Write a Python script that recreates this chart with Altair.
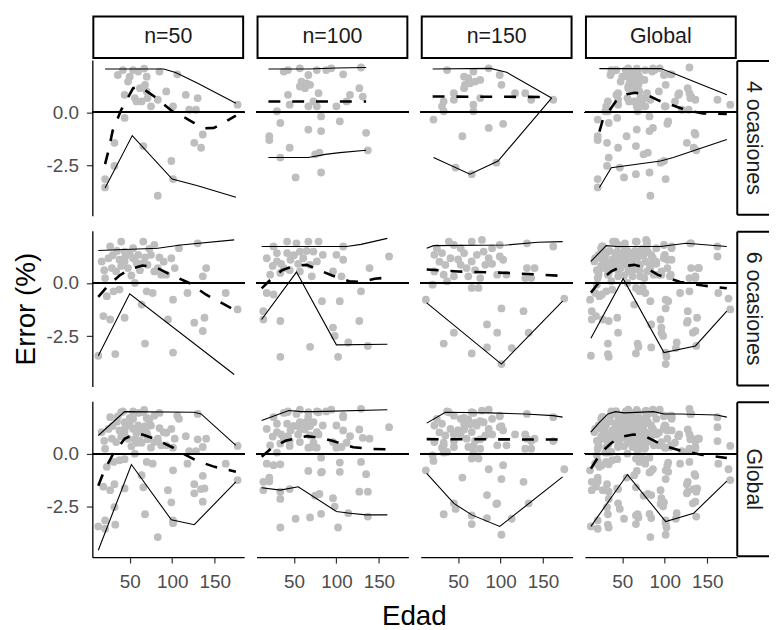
import altair as alt
import pandas as pd

FONT = "Liberation Sans"
COLS = ["n=50", "n=100", "n=150", "Global"]
ROWS = ["4 ocasiones", "6 ocasiones", "Global"]
X_TICKS = [50, 100, 150]
Y_TICKS = [-2.5, 0]

# ---------------- points (edad, error) ----------------
pts_4_50 = [(36, 1.75), (42, 1.98), (50, 1.67), (54, 1.98), (60, 1.91), (67, 2.05), (70, 1.67), (85, 1.91),
            (106, 1.78), (48, 1.44), (68, 1.29), (62, 1.13), (44, 0.82), (58, 0.51), (64, 0.51), (71, 0.67),
            (75, 0.28), (83, 0.59), (93, 0.98), (101, 0.28), (116, 0.82), (130, 0.67), (120, 0.12), (128, 0.12),
            (44, -0.26), (136, -1.04), (126, -1.43), (134, -1.66), (99, -2.28), (66, -1.58), (32, -1.43),
            (32, -2.51), (21, -3.13), (101, -3.13), (83, -3.91), (177, 0.36), (70, 0.98), (56, 0.67), (21, -3.52)]
pts_4_100 = [(38, 1.91), (43, 1.98), (57, 2.06), (67, 1.75), (77, 1.98), (88, 1.98), (94, 2.06), (108, 1.78),
             (129, 2.1), (59, 1.44), (65, 1.36), (57, 1.21), (63, 1.13), (69, 1.29), (43, 0.82), (79, 0.9),
             (116, 0.82), (127, 1.13), (131, 0.74), (45, 0.36), (73, 0.51), (67, 0.28), (77, 0.28), (100, 0.28),
             (112, 0.51), (30, 0.05), (82, -0.19), (34, -0.5), (104, -0.42), (67, -0.81), (82, -0.88),
             (21, -1.12), (135, -0.96), (45, -1.66), (75, -1.97), (80, -1.89), (137, -1.78), (34, -2.12),
             (52, -3.05), (82, -2.82), (21, -1.3)]
pts_4_150 = [(37, 1.98), (57, 1.67), (62, 1.6), (68, 1.91), (76, 1.52), (86, 2.06), (99, 1.75), (101, 1.29),
             (58, 1.29), (64, 1.36), (70, 1.44), (45, 0.9), (45, 0.59), (57, 1.13), (33, 0.51), (76, 0.67),
             (68, 0.36), (117, 0.9), (129, 0.9), (136, 0.59), (31, 0.28), (68, 0.05), (33, 0.05), (21, -0.34),
             (55, -1.12), (86, -0.73), (103, -0.54), (47, -2.59), (66, -2.9), (95, -2.36), (162, 0.59)]
pts_6_50 = [(27, 1.71), (40, 1.94), (44, 1.47), (54, 1.63), (66, 1.94), (79, 1.78), (108, 1.63), (130, 1.86),
            (17, 1.01), (25, 1.16), (29, 0.7), (34, 0.54), (38, 1.09), (44, 1.01), (48, 0.7), (54, 1.16),
            (60, 1.32), (66, 0.93), (71, 0.85), (75, 1.32), (79, 0.54), (83, 0.7), (87, 0.39), (99, 1.16),
            (103, 0.7), (140, 0.7), (136, 0.31), (118, -0.47), (163, -0.47), (177, -1.24), (21, 0.23),
            (23, -0.62), (31, -0.39), (38, -0.31), (56, 0.0), (70, -0.39), (77, -0.47), (93, 0.39), (64, -1.01),
            (19, -1.55), (27, -1.71), (44, -1.63), (101, -0.78), (95, -1.71), (126, -1.86), (138, -1.63),
            (136, -2.25), (33, -3.33), (13, -3.41), (68, -2.84), (101, -3.26), (30, 1.3), (35, 1.5), (45, 1.25),
            (50, 1.4), (58, 0.95), (62, 0.6), (40, 0.8), (20, 0.6), (52, 0.35), (68, 1.2), (73, 1.6), (85, 1.2),
            (90, 1.0)]
pts_6_100 = [(26, 1.71), (42, 1.94), (53, 1.86), (67, 1.94), (79, 1.94), (108, 1.71), (42, 1.4), (57, 1.47),
             (73, 1.47), (84, 1.32), (18, 1.16), (30, 1.01), (38, 0.7), (46, 1.09), (61, 1.16), (69, 0.85),
             (77, 1.01), (100, 1.32), (108, 1.09), (96, 0.54), (34, 0.47), (22, 0.39), (57, 0.54), (71, 0.31),
             (106, 0.31), (129, -0.39), (139, 0.7), (162, 1.24), (18, -0.47), (26, -0.54), (83, -0.85),
             (104, -0.85), (14, -1.32), (14, -1.71), (34, -1.78), (96, -2.09), (127, -1.78), (98, -2.48),
             (114, -2.79), (137, -2.95), (69, -2.99), (34, -3.46), (102, -3.46), (30, 1.4), (50, 1.3), (35, 0.9),
             (55, 0.9), (65, 1.5), (45, 0.6), (25, 0.8)]
pts_6_150 = [(25, 1.63), (39, 1.94), (45, 1.78), (53, 1.63), (66, 1.94), (78, 2.02), (90, 1.63), (99, 1.78),
             (131, 1.86), (162, 1.71), (22, 1.32), (31, 1.4), (41, 1.16), (57, 1.4), (72, 1.32), (80, 1.47),
             (86, 1.16), (99, 1.24), (103, 1.09), (35, 0.85), (53, 0.85), (66, 1.01), (82, 0.85), (22, 0.54),
             (33, 0.39), (45, 0.31), (62, 0.31), (76, 0.23), (96, 0.39), (107, 0.39), (131, 0.7), (140, 0.7),
             (129, 0.23), (136, 0.23), (20, -0.08), (37, 0.08), (66, -0.23), (74, -0.23), (12, -0.78),
             (101, -1.19), (127, -1.32), (84, -1.94), (96, -2.33), (45, -2.33), (33, -2.84), (66, -3.3),
             (84, -3.02), (113, -3.05), (133, -2.33), (101, -3.8), (175, -0.73), (28, 1.0), (50, 1.1), (60, 0.7),
             (70, 0.6), (90, 0.9)]

# ---------------- lines: upper (sup), lower (inf), mean (med) ----------------
sup_4_50 = [(21, 2.03), (52, 2.03), (90, 2.03), (104, 1.87), (130, 1.36), (175, 0.43)]
inf_4_50 = [(21, -3.55), (53, -1.09), (100, -3.13), (130, -3.44), (175, -3.98)]
med_4_50 = [(21, -2.43), (25, -1.8), (30, -0.85), (40, 0.12), (54, 1.13), (62, 1.21), (79, 0.74), (100, 0.05),
            (115, -0.25), (126, -0.5), (138, -0.75), (149, -0.73), (160, -0.5), (175, -0.15)]
sup_4_100 = [(20, 2.03), (67, 2.03), (100, 2.08), (135, 2.1)]
inf_4_100 = [(20, -2.12), (67, -2.12), (87, -1.97), (104, -1.89), (135, -1.78)]
med_4_100 = [(20, 0.51), (135, 0.51)]
sup_4_150 = [(20, 2.03), (88, 2.06), (107, 1.88), (160, 0.67)]
inf_4_150 = [(21, -2.12), (64, -2.9), (97, -2.28), (160, 0.67)]
med_4_150 = [(20, 0.74), (160, 0.72)]
sup_4_g = [(23, 2.05), (95, 2.05), (110, 1.83), (173, 0.82)]
inf_4_g = [(23, -3.52), (37, -2.6), (95, -2.28), (110, -2.12), (173, -1.27)]
med_4_g = [(23, -0.9), (27, -0.35), (35, 0.1), (42, 0.5), (55, 0.85), (65, 0.92), (80, 0.8), (93, 0.55),
           (110, 0.32), (125, 0.1), (145, -0.05), (173, -0.08)]

sup_6_50 = [(13, 1.52), (83, 1.63), (110, 1.78), (173, 2.02)]
inf_6_50 = [(13, -3.41), (50, -0.51), (173, -4.29)]
med_6_50 = [(13, -0.65), (25, -0.1), (38, 0.35), (50, 0.65), (65, 0.82), (80, 0.75), (95, 0.45), (120, 0.0),
            (140, -0.55), (173, -1.25)]
sup_6_100 = [(12, 1.71), (112, 1.71), (129, 1.81), (160, 2.09)]
inf_6_100 = [(12, -1.71), (53, 0.51), (100, -2.9), (160, -2.87)]
med_6_100 = [(12, -0.25), (25, 0.25), (36, 0.6), (50, 0.8), (65, 0.85), (80, 0.6), (95, 0.35), (115, 0.08),
             (130, 0.05), (145, 0.2), (160, 0.25)]
sup_6_150 = [(13, 1.63), (21, 1.75), (107, 1.78), (144, 1.91), (173, 1.94)]
inf_6_150 = [(13, -0.93), (101, -3.8), (173, -0.85)]
med_6_150 = [(13, 0.63), (50, 0.54), (110, 0.47), (173, 0.33)]
sup_6_g = [(13, 1.01), (31, 1.75), (44, 1.71), (95, 1.71), (125, 1.86), (173, 1.71)]
inf_6_g = [(13, -2.59), (51, 0.2), (99, -3.26), (136, -2.95), (173, -1.32)]
med_6_g = [(13, -0.45), (25, 0.15), (37, 0.55), (50, 0.78), (64, 0.85), (78, 0.7), (92, 0.38), (118, 0.05),
           (145, -0.12), (173, -0.25)]

sup_g_50 = [(13, 0.85), (44, 1.97), (126, 1.94), (134, 1.86), (175, 0.39)]
inf_g_50 = [(13, -4.53), (52, -0.51), (99, -3.1), (126, -3.33), (175, -1.32)]
med_g_50 = [(13, -1.5), (20, -0.8), (30, -0.05), (44, 0.7), (55, 0.9), (65, 0.9), (80, 0.68), (100, 0.3),
            (115, -0.05), (130, -0.35), (150, -0.62), (175, -0.85)]
sup_g_100 = [(12, 1.55), (44, 2.02), (59, 1.97), (75, 1.97), (160, 2.06)]
inf_g_100 = [(12, -1.6), (34, -1.71), (55, -1.55), (100, -2.71), (116, -2.79), (135, -2.87), (160, -2.87)]
med_g_100 = [(12, -0.15), (25, 0.3), (40, 0.6), (55, 0.75), (65, 0.82), (80, 0.75), (95, 0.6), (120, 0.3),
             (140, 0.22), (160, 0.2)]
sup_g_150 = [(13, 1.43), (35, 1.94), (86, 1.91), (129, 1.86), (162, 1.78), (173, 1.71)]
inf_g_150 = [(13, -0.93), (45, -2.33), (66, -2.87), (99, -3.41), (173, -1.09)]
med_g_150 = [(13, 0.68), (173, 0.66)]
sup_g_g = [(13, 1.01), (23, 1.47), (33, 1.86), (42, 1.97), (52, 1.91), (87, 1.97), (99, 1.86), (118, 1.86),
           (161, 1.81), (173, 1.71)]
inf_g_g = [(13, -3.41), (56, -0.98), (101, -3.18), (134, -2.79), (173, -1.29)]
med_g_g = [(13, -0.7), (25, 0.05), (37, 0.5), (50, 0.8), (63, 0.9), (75, 0.85), (90, 0.55), (105, 0.3),
           (118, 0.15), (143, -0.05), (173, -0.2)]

# ---------------- assemble panel data ----------------
base_pts = {
    (0, 0): pts_4_50, (0, 1): pts_4_100, (0, 2): pts_4_150,
    (1, 0): pts_6_50, (1, 1): pts_6_100, (1, 2): pts_6_150,
}
for r in (0, 1):
    base_pts[(r, 3)] = base_pts[(r, 0)] + base_pts[(r, 1)] + base_pts[(r, 2)]
for c in range(4):
    base_pts[(2, c)] = base_pts[(0, c)] + base_pts[(1, c)]

line_sets = {
    (0, 0): (sup_4_50, inf_4_50, med_4_50), (0, 1): (sup_4_100, inf_4_100, med_4_100),
    (0, 2): (sup_4_150, inf_4_150, med_4_150), (0, 3): (sup_4_g, inf_4_g, med_4_g),
    (1, 0): (sup_6_50, inf_6_50, med_6_50), (1, 1): (sup_6_100, inf_6_100, med_6_100),
    (1, 2): (sup_6_150, inf_6_150, med_6_150), (1, 3): (sup_6_g, inf_6_g, med_6_g),
    (2, 0): (sup_g_50, inf_g_50, med_g_50), (2, 1): (sup_g_100, inf_g_100, med_g_100),
    (2, 2): (sup_g_150, inf_g_150, med_g_150), (2, 3): (sup_g_g, inf_g_g, med_g_g),
}

W, H = 153, 157
SW, SH = 20, 30
X_DOM = [6, 184.7]
Y_DOM = [-4.85, 2.45]
TICK_FS = 19
STRIP_FS = 21.5
TITLE_FS = 28


def to_df(pairs):
    return pd.DataFrame(pairs, columns=["edad", "error"])


def panel(r, c):
    pts = to_df(base_pts[(r, c)])
    sup, inf, med = line_sets[(r, c)]
    a = to_df(sup)
    a["serie"] = "sup"
    b = to_df(inf)
    b["serie"] = "inf"
    bounds_df = pd.concat([a, b], ignore_index=True)
    med_df = to_df(med)

    xs = alt.Scale(domain=X_DOM, nice=False, zero=False)
    ys = alt.Scale(domain=Y_DOM, nice=False, zero=False)
    if r == 2:
        if c == 0:
            xax = alt.Axis(values=X_TICKS, format="d", domain=True, labelPadding=10,
                           title="Edad", titleX=324, titleAlign="center", titlePadding=11)
        else:
            xax = alt.Axis(values=X_TICKS, format="d", domain=True, labelPadding=10, title=None)
    else:
        xax = None
    if c == 0:
        yax = alt.Axis(values=Y_TICKS, domain=True, labelPadding=8,
                       labelExpr="datum.value < 0 ? '-' + format(-datum.value, '.1f') : format(datum.value, '.1f')",
                       title=("Error (%)" if r == 1 else None), titlePadding=6)
    else:
        yax = None

    x_enc = alt.X("edad:Q", scale=xs, axis=xax)
    y_enc = alt.Y("error:Q", scale=ys, axis=yax)

    p = alt.Chart(pts).mark_circle(size=62, color="#BEBEBE", opacity=1).encode(x=x_enc, y=y_enc)
    zero = alt.Chart(pts).mark_rule(color="black", strokeWidth=1.1).encode(
        y=alt.YDatum(0, scale=ys, axis=yax))
    bl = alt.Chart(bounds_df).mark_line(color="black", strokeWidth=1.1).encode(
        x=x_enc, y=y_enc, detail="serie:N")
    ml = alt.Chart(med_df).mark_line(color="black", strokeWidth=2.6, strokeDash=[12, 12]).encode(
        x=x_enc, y=y_enc)
    return alt.layer(p, zero, bl, ml).properties(width=W, height=H)


def top_strip(label):
    d = pd.DataFrame({"lab": [label]})
    box = alt.Chart(d).mark_rect(fill="white", stroke="black", strokeWidth=2).encode(
        x=alt.value(1), x2=alt.value(W - 1), y=alt.value(1), y2=alt.value(43))
    txt = alt.Chart(d).mark_text(font=FONT, fontSize=STRIP_FS, color="#1A1A1A", baseline="middle",
                                 align="center").encode(x=alt.value(W / 2), y=alt.value(22), text="lab:N")
    return alt.layer(box, txt).properties(width=W, height=SH)


def right_strip(label):
    d = pd.DataFrame({"lab": [label]})
    base = alt.Chart(d)
    top = base.mark_rule(color="black", strokeWidth=2).encode(
        x=alt.value(-12), x2=alt.value(SW), y=alt.value(1))
    bot = base.mark_rule(color="black", strokeWidth=2).encode(
        x=alt.value(-12), x2=alt.value(SW), y=alt.value(H - 1))
    left = base.mark_rule(color="black", strokeWidth=2).encode(
        x=alt.value(-12), y=alt.value(1), y2=alt.value(H - 1))
    txt = base.mark_text(font=FONT, fontSize=STRIP_FS, color="#1A1A1A", angle=90, baseline="middle",
                         align="center").encode(x=alt.value(4), y=alt.value(H / 2), text="lab:N")
    return alt.layer(top, bot, left, txt).properties(width=SW, height=H)


empty = alt.Chart(pd.DataFrame({"lab": [""]})).mark_rule(strokeOpacity=0).encode(
    x=alt.value(2), x2=alt.value(6), y=alt.value(10)).properties(width=SW, height=SH)

cells = [top_strip(c) for c in COLS] + [empty]
for r in range(3):
    cells += [panel(r, c) for c in range(4)] + [right_strip(ROWS[r])]

chart = alt.concat(*cells, columns=5, spacing={"row": 15, "column": 12.5}, bounds="flush",
                   align="each").properties(
    padding={"left": 4, "top": 5, "right": 0, "bottom": 0}
).configure_view(stroke=None).configure_axis(
    grid=False, domainColor="black", domainWidth=1.3, tickColor="#333333", tickWidth=1.2, tickSize=6,
    labelFont=FONT, labelFontSize=TICK_FS, labelColor="#4D4D4D",
    titleFont=FONT, titleFontSize=TITLE_FS, titleColor="black", titleFontWeight="normal"
)

chart.save("out.html", embed_options={"renderer": "svg", "actions": False})
